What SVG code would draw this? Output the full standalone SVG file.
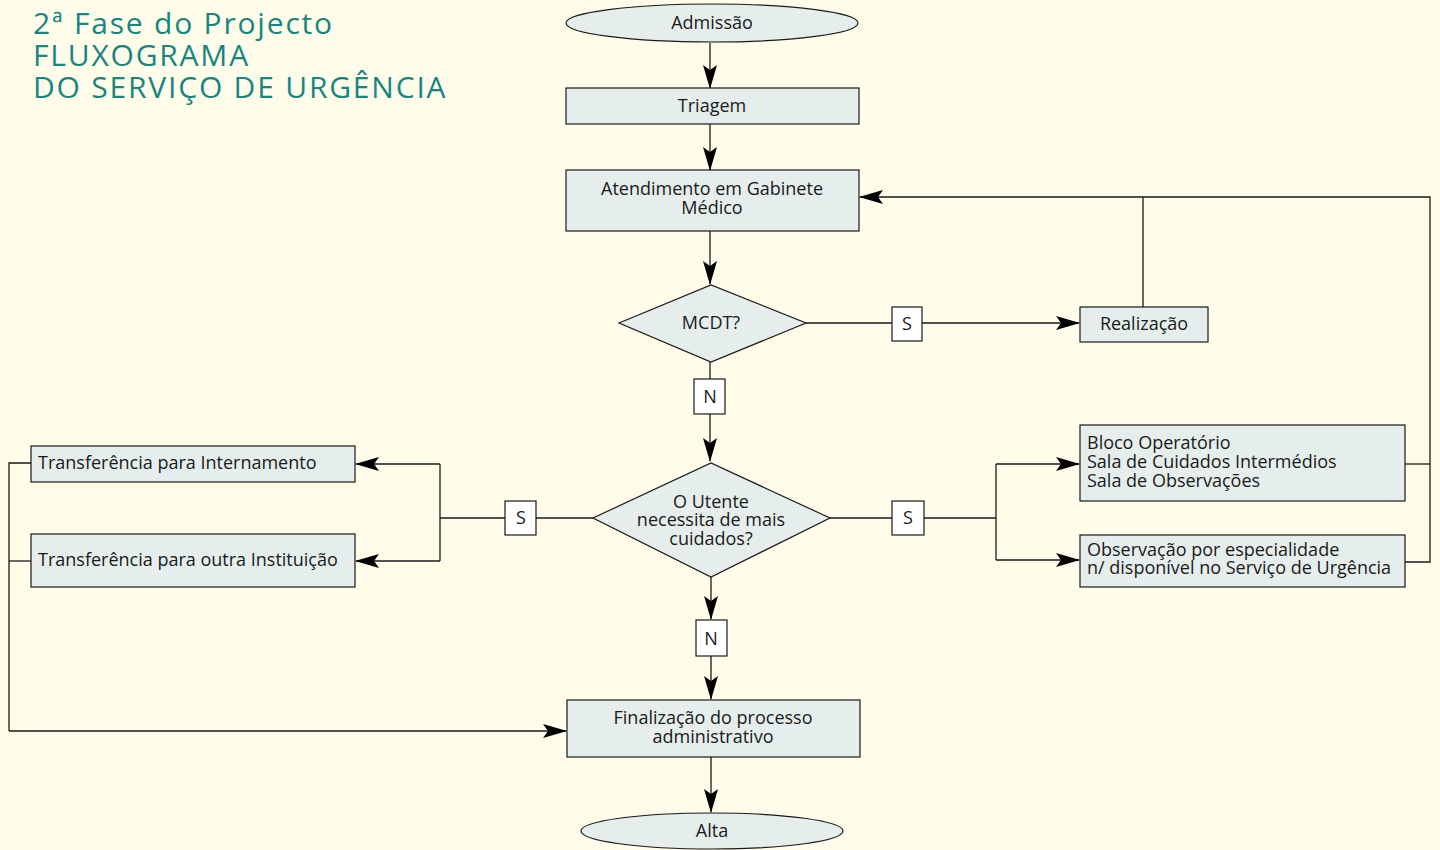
<svg xmlns="http://www.w3.org/2000/svg" width="1440" height="850" viewBox="0 0 1440 850">
<style>
.bg{fill:#FFFCE9}
.n{fill:#E5EEEC;stroke:#1a1a1a;stroke-width:1.2}
.lb{fill:#ffffff;stroke:#1a1a1a;stroke-width:1.2}
.c{fill:none;stroke:#1a1a1a;stroke-width:1.3}
.t{font-family:"Open Sans","Liberation Sans",Arial,sans-serif;font-size:18px;fill:#1a1a1a}
.m{text-anchor:middle}
.title{font-family:"Open Sans","Liberation Sans",sans-serif;font-size:30px;letter-spacing:1.8px;fill:#178581}
</style>
<defs>
<marker id="ah" markerUnits="userSpaceOnUse" markerWidth="24" markerHeight="14" viewBox="0 0 24 14" refX="23" refY="7" orient="auto">
<path d="M0,0 L24,7 L0,14 L5,7 Z" fill="#000"/>
</marker>
</defs>
<rect class="bg" x="0" y="0" width="1440" height="850"/>
<g id="title">
<text class="title" x="33" y="34">2ª Fase do Projecto</text>
<text class="title" x="33" y="66">FLUXOGRAMA</text>
<text class="title" x="33" y="98">DO SERVIÇO DE URGÊNCIA</text>
</g>
<g id="connectors">
<line class="c" x1="710" y1="43" x2="710" y2="88" marker-end="url(#ah)"/>
<line class="c" x1="710" y1="124" x2="710" y2="170" marker-end="url(#ah)"/>
<line class="c" x1="710" y1="231" x2="710" y2="284" marker-end="url(#ah)"/>
<line class="c" x1="806" y1="323" x2="892" y2="323"/>
<line class="c" x1="922" y1="323" x2="1079" y2="323" marker-end="url(#ah)"/>
<polyline class="c" points="1143,307 1143,197"/>
<polyline class="c" points="1405,464 1430,464"/>
<polyline class="c" points="1405,562 1430,562 1430,197 860,197" marker-end="url(#ah)"/>
<line class="c" x1="710" y1="362" x2="710" y2="379"/>
<line class="c" x1="710" y1="414" x2="710" y2="461" marker-end="url(#ah)"/>
<line class="c" x1="593" y1="518" x2="536" y2="518"/>
<line class="c" x1="505" y1="518" x2="440" y2="518"/>
<polyline class="c" points="440,464 440,561"/>
<line class="c" x1="440" y1="464" x2="356" y2="464" marker-end="url(#ah)"/>
<line class="c" x1="440" y1="561" x2="356" y2="561" marker-end="url(#ah)"/>
<polyline class="c" points="31,463 9,463 9,731"/>
<line class="c" x1="9" y1="561" x2="31" y2="561"/>
<line class="c" x1="9" y1="731" x2="566" y2="731" marker-end="url(#ah)"/>
<line class="c" x1="830" y1="518" x2="892" y2="518"/>
<line class="c" x1="924" y1="518" x2="996" y2="518"/>
<polyline class="c" points="996,464 996,560"/>
<line class="c" x1="996" y1="464" x2="1079" y2="464" marker-end="url(#ah)"/>
<line class="c" x1="996" y1="560" x2="1079" y2="560" marker-end="url(#ah)"/>
<line class="c" x1="711" y1="577" x2="711" y2="619" marker-end="url(#ah)"/>
<line class="c" x1="711" y1="656" x2="711" y2="699" marker-end="url(#ah)"/>
<line class="c" x1="711" y1="757" x2="711" y2="812" marker-end="url(#ah)"/>
</g>
<g id="lbl-s1"><rect class="lb" x="892" y="307" width="30" height="34"/><text class="t m" x="907" y="330">S</text></g>
<g id="lbl-n1"><rect class="lb" x="694" y="379" width="31" height="35"/><text class="t m" x="710" y="403">N</text></g>
<g id="lbl-s2"><rect class="lb" x="505" y="501" width="31" height="34"/><text class="t m" x="521" y="524">S</text></g>
<g id="lbl-s3"><rect class="lb" x="892" y="501" width="32" height="34"/><text class="t m" x="908" y="524">S</text></g>
<g id="lbl-n2"><rect class="lb" x="696" y="620" width="31" height="36"/><text class="t m" x="711" y="645">N</text></g>
<g id="admissao"><ellipse class="n" cx="712" cy="23" rx="146" ry="19"/><text class="t m" x="712" y="29">Admissão</text></g>
<g id="triagem"><rect class="n" x="566" y="88" width="293" height="36"/><text class="t m" x="712" y="112">Triagem</text></g>
<g id="atendimento"><rect class="n" x="566" y="170" width="293" height="61"/><text class="t m" x="712" y="195">Atendimento em Gabinete</text><text class="t m" x="712" y="214">Médico</text></g>
<g id="mcdt"><polygon class="n" points="619,323 711,285 806,323 711,362"/><text class="t m" x="711" y="329">MCDT?</text></g>
<g id="realizacao"><rect class="n" x="1080" y="307" width="128" height="35"/><text class="t m" x="1144" y="330">Realização</text></g>
<g id="utente"><polygon class="n" points="593,518 711,463 830,518 711,577"/><text class="t m" x="711" y="508">O Utente</text><text class="t m" x="711" y="526">necessita de mais</text><text class="t m" x="711" y="545">cuidados?</text></g>
<g id="internamento"><rect class="n" x="31" y="446" width="324" height="36"/><text class="t" x="38" y="469">Transferência para Internamento</text></g>
<g id="instituicao"><rect class="n" x="31" y="534" width="324" height="53"/><text class="t" x="38" y="566">Transferência para outra Instituição</text></g>
<g id="bloco"><rect class="n" x="1080" y="425" width="325" height="76"/><text class="t" x="1087" y="449">Bloco Operatório</text><text class="t" x="1087" y="468">Sala de Cuidados Intermédios</text><text class="t" x="1087" y="487">Sala de Observações</text></g>
<g id="observacao"><rect class="n" x="1080" y="535" width="325" height="52"/><text class="t" x="1087" y="556">Observação por especialidade</text><text class="t" x="1087" y="574">n/ disponível no Serviço de Urgência</text></g>
<g id="finalizacao"><rect class="n" x="567" y="700" width="293" height="57"/><text class="t m" x="713" y="724">Finalização do processo</text><text class="t m" x="713" y="743">administrativo</text></g>
<g id="alta"><ellipse class="n" cx="712" cy="831" rx="131" ry="18"/><text class="t m" x="712" y="837">Alta</text></g>
</svg>
